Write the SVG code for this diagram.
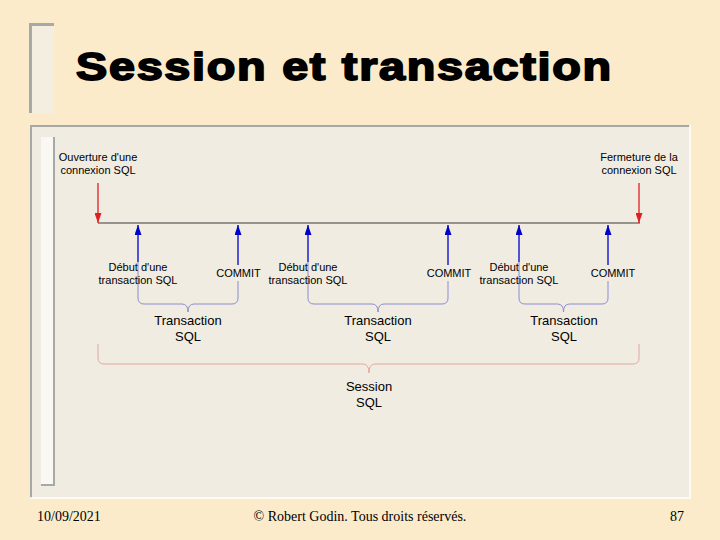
<svg xmlns="http://www.w3.org/2000/svg" width="720" height="540" viewBox="0 0 720 540">
<style>
.lbl{font-family:"Liberation Sans",Arial,sans-serif;font-size:11px;fill:#000;text-anchor:middle}
.big{font-family:"Liberation Sans",Arial,sans-serif;font-size:13px;fill:#000;text-anchor:middle}
.foot{font-family:"Liberation Serif","Times New Roman",serif;font-size:14px;fill:#000}
.axis{stroke:#3a3a3a;stroke-width:1.2;fill:none}
.red{stroke:#e02020;stroke-width:1.3;fill:none}
.blue{stroke:#0000c8;stroke-width:1.3;fill:none}
.tbrace{stroke:#8c8cd0;stroke-width:1;fill:none}
.sbrace{stroke:#e0a8a0;stroke-width:1;fill:none}
</style>
<defs>
<marker id="ahRed" viewBox="0 0 10 7" refX="10" refY="3.5" markerWidth="10" markerHeight="7" markerUnits="userSpaceOnUse" orient="auto"><path d="M0,0 L10,3.5 L0,7 z" fill="#e02020"/></marker>
<marker id="ahBlue" viewBox="0 0 10 7" refX="10" refY="3.5" markerWidth="10" markerHeight="7" markerUnits="userSpaceOnUse" orient="auto"><path d="M0,0 L10,3.5 L0,7 z" fill="#0000c8"/></marker>
</defs>
<rect x="0" y="0" width="720" height="540" fill="#fbebcb"/>
<g id="title">
<rect x="29" y="23" width="25" height="90" fill="#f3eedf"/>
<path d="M30.5,113 V24.5 H54" stroke="#a8a8a8" stroke-width="3" fill="none"/>
<text transform="translate(76,80) scale(1.2,1)" x="0" y="0" font-family="'Liberation Sans',Arial,sans-serif" font-size="39" font-weight="bold" stroke="#000" stroke-width="1.8" stroke-linejoin="round" fill="#000" textLength="446" lengthAdjust="spacing">Session et transaction</text>
</g>
<g id="panel">
<rect x="30" y="125" width="660" height="373" fill="#f1ece2"/>
<path d="M31,498 V126 H690" stroke="#a8a8a8" stroke-width="2" fill="none"/>
<path d="M30,498 H690 V125" stroke="#ffffff" stroke-width="1.5" fill="none"/>
<rect x="41" y="137" width="13" height="348" fill="#faf8f2"/>
<path d="M54,137 V485 H41" stroke="#a8a8a8" stroke-width="2" fill="none"/>
</g>
<g id="connectors">
<line class="axis" x1="98" y1="223" x2="640" y2="223"/>
<line class="red" x1="98" y1="183" x2="98" y2="223" marker-end="url(#ahRed)"/>
<line class="red" x1="639" y1="183" x2="639" y2="223" marker-end="url(#ahRed)"/>
<line class="blue" x1="138" y1="262" x2="138" y2="225" marker-end="url(#ahBlue)"/>
<line class="blue" x1="238" y1="265" x2="238" y2="225" marker-end="url(#ahBlue)"/>
<line class="blue" x1="308" y1="262" x2="308" y2="225" marker-end="url(#ahBlue)"/>
<line class="blue" x1="448" y1="265" x2="448" y2="225" marker-end="url(#ahBlue)"/>
<line class="blue" x1="519" y1="262" x2="519" y2="225" marker-end="url(#ahBlue)"/>
<line class="blue" x1="608" y1="265" x2="608" y2="225" marker-end="url(#ahBlue)"/>
<path class="tbrace" d="M138,262 V298 Q138,304 144,304 H182 Q188,304 188,312 Q188,304 194,304 H232 Q238,304 238,298 V281"/>
<path class="tbrace" d="M308,262 V298 Q308,304 314,304 H372 Q378,304 378,312 Q378,304 384,304 H442 Q448,304 448,298 V281"/>
<path class="tbrace" d="M519,262 V298 Q519,304 525,304 H557.5 Q563.5,304 563.5,312 Q563.5,304 569.5,304 H602 Q608,304 608,298 V281"/>
<path class="sbrace" d="M98,344 V358 Q98,364 104,364 H363 Q369,364 369,373 Q369,364 375,364 H633 Q639,364 639,358 V344"/>
</g>
<g id="open"><text class="lbl" x="98" y="161">Ouverture d'une</text><text class="lbl" x="98" y="174">connexion SQL</text></g>
<g id="close"><text class="lbl" x="639" y="161">Fermeture de la</text><text class="lbl" x="639" y="174">connexion SQL</text></g>
<g id="begin1"><text class="lbl" x="138" y="271">Début d'une</text><text class="lbl" x="138" y="284">transaction SQL</text></g>
<g id="commit1"><text class="lbl" x="238.5" y="277">COMMIT</text></g>
<g id="begin2"><text class="lbl" x="308" y="271">Début d'une</text><text class="lbl" x="308" y="284">transaction SQL</text></g>
<g id="commit2"><text class="lbl" x="449" y="277">COMMIT</text></g>
<g id="begin3"><text class="lbl" x="519" y="271">Début d'une</text><text class="lbl" x="519" y="284">transaction SQL</text></g>
<g id="commit3"><text class="lbl" x="613" y="277">COMMIT</text></g>
<g id="trans1"><text class="big" x="188" y="325">Transaction</text><text class="big" x="188" y="341">SQL</text></g>
<g id="trans2"><text class="big" x="378" y="325">Transaction</text><text class="big" x="378" y="341">SQL</text></g>
<g id="trans3"><text class="big" x="564" y="325">Transaction</text><text class="big" x="564" y="341">SQL</text></g>
<g id="session"><text class="big" x="369" y="391">Session</text><text class="big" x="369" y="407">SQL</text></g>
<g id="footer">
<text class="foot" x="37" y="521">10/09/2021</text>
<text class="foot" x="360" y="521" text-anchor="middle">© Robert Godin. Tous droits réservés.</text>
<text class="foot" x="684" y="521" text-anchor="end">87</text>
</g>
</svg>
